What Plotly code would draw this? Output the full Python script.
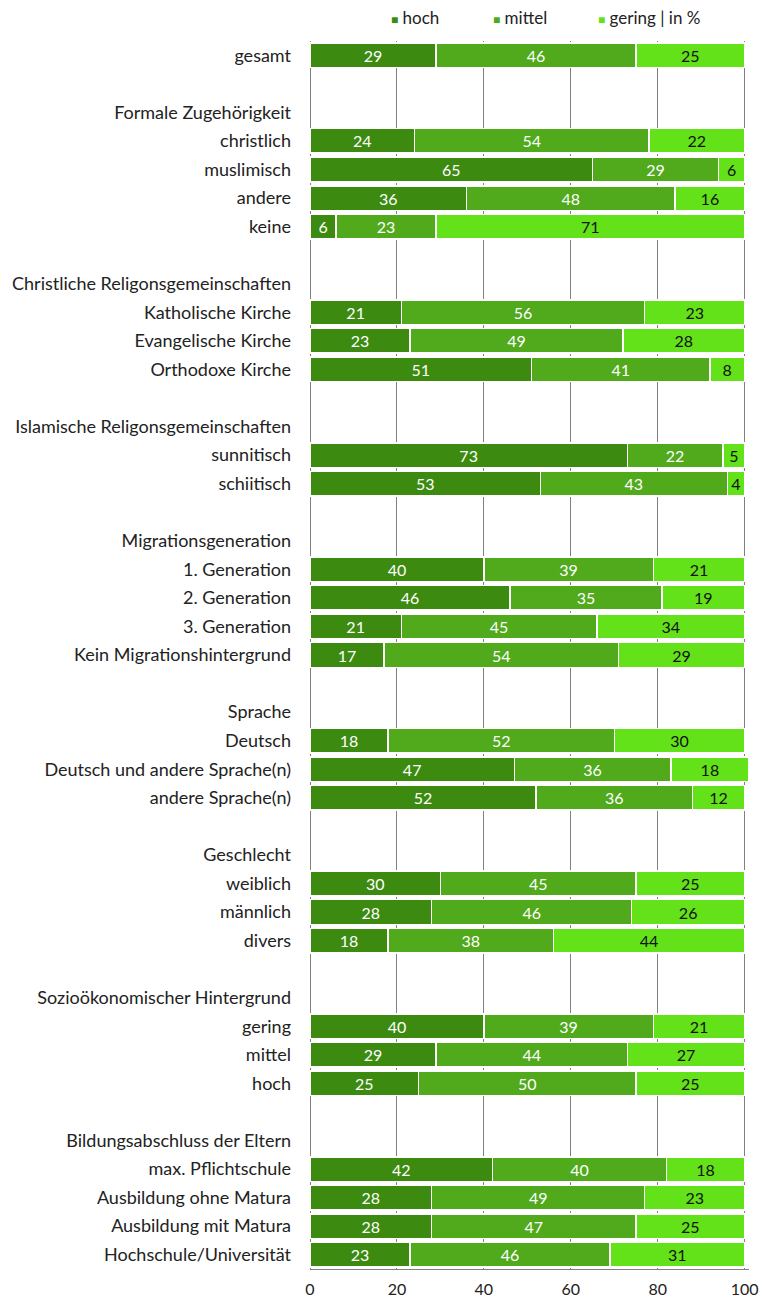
import plotly.graph_objects as go

labels = [
    "gesamt", "",
    "Formale Zugehörigkeit", "christlich", "muslimisch", "andere", "keine", "",
    "Christliche Religonsgemeinschaften", "Katholische Kirche", "Evangelische Kirche", "Orthodoxe Kirche", "",
    "Islamische Religonsgemeinschaften", "sunnitisch", "schiitisch", "",
    "Migrationsgeneration", "1. Generation", "2. Generation", "3. Generation", "Kein Migrationshintergrund", "",
    "Sprache", "Deutsch", "Deutsch und andere Sprache(n)", "andere Sprache(n)", "",
    "Geschlecht", "weiblich", "männlich", "divers", "",
    "Sozioökonomischer Hintergrund", "gering", "mittel", "hoch", "",
    "Bildungsabschluss der Eltern", "max. Pflichtschule", "Ausbildung ohne Matura", "Ausbildung mit Matura", "Hochschule/Universität",
]

N = None
hoch = [29, N,
        N, 24, 65, 36, 6, N,
        N, 21, 23, 51, N,
        N, 73, 53, N,
        N, 40, 46, 21, 17, N,
        N, 18, 47, 52, N,
        N, 30, 28, 18, N,
        N, 40, 29, 25, N,
        N, 42, 28, 28, 23]
mittel = [46, N,
          N, 54, 29, 48, 23, N,
          N, 56, 49, 41, N,
          N, 22, 43, N,
          N, 39, 35, 45, 54, N,
          N, 52, 36, 36, N,
          N, 45, 46, 38, N,
          N, 39, 44, 50, N,
          N, 40, 49, 47, 46]
gering = [25, N,
          N, 22, 6, 16, 71, N,
          N, 23, 28, 8, N,
          N, 5, 4, N,
          N, 21, 19, 34, 29, N,
          N, 30, 18, 12, N,
          N, 25, 26, 44, N,
          N, 21, 27, 25, N,
          N, 18, 23, 25, 31]

series_names = ["hoch", "mittel", "gering | in %"]
x_ticks = [0, 20, 40, 60, 80, 100]

colors = ["#3c8a10", "#50aa1c", "#63e21a"]
text_colors = ["white", "white", "#111111"]

FONT = "Lato"
LBL = 18
rows = list(range(len(labels)))

fig = go.Figure()
for name, vals, color, tcolor in zip(series_names, [hoch, mittel, gering], colors, text_colors):
    fig.add_trace(go.Bar(
        y=rows, x=vals, name=name, orientation="h",
        marker=dict(color=color, line=dict(color="white", width=1.5)),
        width=0.86,
        text=[("" if v is None else str(v)) for v in vals],
        textposition="inside", insidetextanchor="middle",
        textangle=0, constraintext="none",
        insidetextfont=dict(family=FONT, size=16, color=tcolor),
        hoverinfo="skip", showlegend=False,
    ))

# legend entries (one legend each, so they can be placed like the reference)
legend_ids = ["legend", "legend2", "legend3"]
legend_x = [351, 453, 558]
for name, color, lid in zip(series_names, colors, legend_ids):
    fig.add_trace(go.Scatter(
        x=[None], y=[None], mode="markers",
        marker=dict(size=1, color="rgba(0,0,0,0)"),
        name=f'<span style="color:{color};font-size:12px">■</span> {name}',
        showlegend=True, hoverinfo="skip", legend=lid,
    ))

legend_common = dict(orientation="h", xref="container", yref="container",
                     y=1.0, xanchor="left", yanchor="top",
                     font=dict(family=FONT, size=17, color="#222222"),
                     itemwidth=30, bgcolor="rgba(0,0,0,0)")

fig.update_layout(
    barmode="stack",
    width=762, height=1300,
    margin=dict(l=310, r=13, t=41, b=31, autoexpand=False),
    plot_bgcolor="white", paper_bgcolor="white",
    font=dict(family=FONT, size=LBL, color="#222222"),
    legend=dict(x=legend_x[0] / 762, **legend_common),
    legend2=dict(x=legend_x[1] / 762, **legend_common),
    legend3=dict(x=legend_x[2] / 762, **legend_common),
    showlegend=True,
)
fig.update_xaxes(
    range=[0, 101], tickvals=x_ticks, ticktext=[str(t) for t in x_ticks],
    showgrid=True, gridcolor="#808080", gridwidth=1,
    zeroline=True, zerolinecolor="#808080", zerolinewidth=1,
    showline=True, linecolor="#808080", linewidth=1,
    ticks="", ticklabelstandoff=6, automargin=False,
    tickfont=dict(family=FONT, size=16, color="#222222"),
    fixedrange=True,
)
fig.update_yaxes(
    range=[len(labels) - 0.5, -0.5],
    tickvals=rows, ticktext=labels,
    showgrid=False, zeroline=False, showline=False,
    ticks="", ticklabelstandoff=18, automargin=False,
    tickfont=dict(family=FONT, size=LBL, color="#222222"),
    fixedrange=True,
)

fig.write_html("out.html", config={"displayModeBar": False},
               post_script="document.body.style.margin='0';")
